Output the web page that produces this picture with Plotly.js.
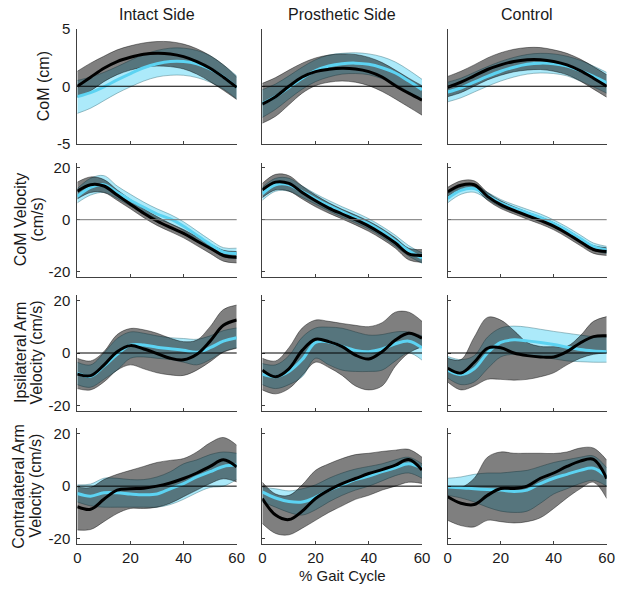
<!DOCTYPE html>
<html lang="en">
<head>
    <meta charset="UTF-8">
    <title>CoM and arm velocity over gait cycle</title>
    <script src="https://cdn.plot.ly/plotly-3.0.1.min.js"></script>
    <style>
        body { margin: 0; background: #fff; }
        #chart { width: 622px; height: 591px; }
    </style>
</head>
<body>
    <div id="chart"></div>
    <script>
        // % gait cycle sample points
        const gaitPct = [0, 5, 10, 15, 20, 25, 30, 35, 40, 45, 50, 55, 60];
        const xTicks = [0, 20, 40, 60];
        const comTicks = [-5, 0, 5];
        const velTicks = [-20, 0, 20];

        const colTitles = ['Intact Side', 'Prosthetic Side', 'Control'];
        // each row label is one or two lines
        const rowTitles = [['CoM (cm)'], ['CoM Velocity', '(cm/s)'], ['Ipsilateral Arm', 'Velocity (cm/s)'], ['Contralateral Arm', 'Velocity (cm/s)']];

        // --- CoM (cm) ---
        const comIntK   = [0.0, 0.78, 1.56, 2.14, 2.51, 2.77, 2.86, 2.8, 2.57, 2.14, 1.56, 0.78, -0.1];
        const comIntKHi = [1.3, 2.0, 2.6, 3.15, 3.5, 3.75, 3.87, 3.85, 3.65, 3.25, 2.65, 1.85, 0.8];
        const comIntKLo = [-0.95, -0.4, 0.4, 1.0, 1.4, 1.65, 1.75, 1.7, 1.5, 1.05, 0.4, -0.35, -1.15];
        const comIntC   = [-0.9, -0.55, -0.05, 0.55, 1.1, 1.6, 1.95, 2.15, 2.15, 1.95, 1.5, 0.8, -0.1];
        const comIntCHi = [0.5, 0.8, 1.2, 1.7, 2.25, 2.75, 3.1, 3.3, 3.3, 3.1, 2.65, 1.85, 0.9];
        const comIntCLo = [-2.35, -1.9, -1.25, -0.6, -0.05, 0.45, 0.8, 0.95, 0.95, 0.75, 0.35, -0.25, -1.1];

        const comProK   = [-1.55, -0.9, 0.0, 0.8, 1.27, 1.47, 1.56, 1.5, 1.27, 0.8, 0.05, -0.6, -1.2];
        const comProKHi = [0.25, 0.75, 1.4, 2.0, 2.45, 2.7, 2.8, 2.75, 2.5, 2.05, 1.4, 0.7, 0.05];
        const comProKLo = [-3.2, -2.6, -1.6, -0.6, 0.05, 0.35, 0.45, 0.35, 0.05, -0.45, -1.1, -1.8, -2.5];
        const comProC   = [-1.5, -0.9, -0.1, 0.7, 1.35, 1.75, 1.95, 2.0, 1.9, 1.6, 1.15, 0.45, -0.3];
        const comProCHi = [-0.3, 0.2, 0.9, 1.65, 2.3, 2.7, 2.85, 2.9, 2.8, 2.55, 2.1, 1.4, 0.6];
        const comProCLo = [-2.7, -2.0, -1.1, -0.25, 0.4, 0.8, 1.05, 1.1, 1.0, 0.65, 0.2, -0.5, -1.2];

        const comCtlK   = [-0.1, 0.35, 0.9, 1.45, 1.85, 2.15, 2.3, 2.3, 2.15, 1.85, 1.35, 0.7, 0.0];
        const comCtlKHi = [0.85, 1.3, 1.85, 2.45, 2.9, 3.2, 3.35, 3.35, 3.15, 2.85, 2.35, 1.7, 1.0];
        const comCtlKLo = [-0.9, -0.55, 0.0, 0.55, 0.95, 1.25, 1.4, 1.45, 1.3, 1.0, 0.45, -0.25, -0.95];
        const comCtlC   = [-0.5, -0.15, 0.35, 0.85, 1.3, 1.65, 1.9, 2.0, 1.95, 1.75, 1.35, 0.85, 0.3];
        const comCtlCHi = [0.35, 0.7, 1.2, 1.7, 2.15, 2.5, 2.75, 2.85, 2.8, 2.6, 2.25, 1.75, 1.2];
        const comCtlCLo = [-1.35, -1.0, -0.5, 0.0, 0.45, 0.8, 1.05, 1.15, 1.1, 0.9, 0.45, -0.05, -0.6];

        // --- CoM velocity (cm/s) ---
        const velIntK   = [11.0, 13.5, 13.0, 9.5, 6.0, 2.5, -0.5, -3.0, -5.3, -8.2, -11.0, -13.8, -14.5];
        const velIntKHi = [14.5, 16.5, 15.5, 11.5, 7.8, 4.3, 1.2, -1.5, -3.8, -6.6, -9.3, -11.8, -12.3];
        const velIntKLo = [8.0, 10.5, 10.5, 7.5, 4.2, 0.8, -2.2, -4.6, -7.0, -10.0, -13.0, -16.0, -16.7];
        const velIntC   = [9.0, 12.5, 13.5, 10.5, 7.5, 4.8, 2.2, 0.3, -2.5, -6.0, -9.5, -12.5, -13.0];
        const velIntCHi = [12.0, 16.0, 17.0, 13.0, 9.8, 6.8, 4.2, 2.0, -0.8, -4.3, -7.8, -10.8, -11.0];
        const velIntCLo = [6.5, 9.5, 10.5, 8.2, 5.3, 2.8, 0.3, -1.5, -4.2, -7.8, -11.2, -14.3, -15.0];

        const velProK   = [11.5, 14.5, 14.0, 10.5, 7.3, 4.5, 2.2, 0.0, -2.5, -5.5, -9.0, -13.2, -13.8];
        const velProKHi = [14.0, 17.5, 17.0, 13.0, 9.5, 6.5, 4.0, 1.8, -0.6, -3.5, -7.0, -11.0, -11.5];
        const velProKLo = [8.5, 11.5, 11.0, 8.0, 5.0, 2.5, 0.3, -2.0, -4.5, -7.5, -11.0, -15.5, -16.5];
        const velProC   = [10.0, 13.5, 13.5, 10.8, 8.0, 5.4, 3.0, 0.8, -1.6, -4.6, -8.2, -12.0, -14.8];
        const velProCHi = [12.5, 16.0, 16.0, 13.0, 10.0, 7.4, 5.0, 2.8, 0.4, -2.6, -6.0, -10.0, -12.8];
        const velProCLo = [7.5, 11.0, 11.0, 8.6, 6.0, 3.4, 1.0, -1.2, -3.6, -6.6, -10.2, -14.0, -16.8];

        const velCtlK   = [10.8, 13.3, 13.5, 9.0, 5.8, 3.6, 1.6, -0.3, -2.5, -5.3, -8.5, -11.5, -12.3];
        const velCtlKHi = [12.5, 15.0, 15.0, 10.5, 7.3, 5.0, 3.0, 1.1, -1.1, -3.8, -7.0, -10.0, -10.8];
        const velCtlKLo = [9.0, 11.6, 12.0, 7.5, 4.3, 2.2, 0.2, -1.7, -3.9, -6.8, -10.0, -13.0, -13.8];
        const velCtlC   = [8.2, 11.3, 12.0, 9.2, 6.4, 4.4, 2.6, 0.8, -1.5, -4.2, -7.3, -10.4, -11.7];
        const velCtlCHi = [10.0, 12.8, 13.4, 10.6, 7.8, 5.8, 4.0, 2.2, -0.1, -2.8, -5.9, -9.0, -10.3];
        const velCtlCLo = [6.5, 9.8, 10.6, 7.8, 5.0, 3.0, 1.2, -0.6, -2.9, -5.6, -8.7, -11.8, -13.1];

        // --- Ipsilateral arm velocity (cm/s) ---
        const ipsIntK   = [-8.0, -8.6, -4.6, 0.5, 2.8, 1.5, -0.2, -2.0, -2.6, -0.5, 4.5, 10.5, 12.5];
        const ipsIntKHi = [-2.0, -3.0, 0.5, 7.0, 9.3, 8.8, 7.5, 5.6, 4.3, 4.9, 10.0, 16.5, 18.2];
        const ipsIntKLo = [-13.5, -14.0, -11.0, -6.5, -4.5, -6.0, -7.5, -8.3, -8.5, -6.5, -3.3, 0.3, 1.8];
        const ipsIntC   = [-7.7, -8.8, -5.0, -0.5, 3.0, 3.0, 2.2, 1.6, 1.0, 0.3, 2.0, 4.5, 5.8];
        const ipsIntCHi = [-3.5, -4.5, 0.0, 5.5, 8.0, 7.5, 6.5, 5.8, 5.5, 5.2, 6.5, 8.5, 9.5];
        const ipsIntCLo = [-12.0, -13.0, -10.0, -6.5, -2.0, -1.5, -2.0, -2.5, -3.5, -4.5, -2.5, 0.5, 2.0];

        const ipsProK   = [-6.5, -9.0, -6.0, 1.0, 5.2, 4.3, 2.4, -0.8, -2.3, 0.5, 4.9, 7.5, 5.6];
        const ipsProKHi = [-2.0, -3.0, 2.0, 9.5, 12.5, 12.0, 11.2, 10.5, 10.0, 11.5, 15.5, 15.5, 12.0];
        const ipsProKLo = [-14.0, -15.5, -13.5, -8.5, -3.5, -5.5, -8.5, -12.5, -14.0, -12.5, -5.0, 0.0, 2.4];
        const ipsProC   = [-8.0, -9.0, -7.0, -2.5, 4.0, 4.2, 2.5, 1.0, 0.5, 1.5, 3.5, 4.5, 2.0];
        const ipsProCHi = [-4.0, -4.5, -1.0, 6.0, 9.5, 9.8, 9.4, 8.0, 6.8, 7.0, 8.0, 8.0, 6.5];
        const ipsProCLo = [-12.0, -13.5, -12.0, -9.0, -2.0, -4.5, -6.5, -7.0, -7.0, -6.5, -3.0, 0.0, -2.7];

        const ipsCtlK   = [-5.8, -7.6, -3.5, 1.8, 2.0, 0.0, -1.0, -1.5, -1.5, 0.5, 3.8, 6.2, 6.5];
        const ipsCtlKHi = [-2.0, -2.5, 6.0, 13.5, 12.5, 8.5, 4.0, 2.5, 2.4, 2.5, 6.5, 12.0, 13.8];
        const ipsCtlKLo = [-11.0, -14.0, -12.5, -10.0, -10.0, -10.3, -10.0, -9.0, -7.5, -4.5, -2.0, -0.5, 0.0];
        const ipsCtlC   = [-6.5, -8.2, -6.0, 0.0, 4.0, 5.0, 4.6, 4.0, 3.2, 2.2, 1.3, 0.8, 0.5];
        const ipsCtlCHi = [-1.3, -2.5, -1.0, 6.0, 9.5, 10.2, 9.8, 9.0, 8.2, 7.5, 6.8, 6.2, 6.0];
        const ipsCtlCLo = [-9.5, -12.0, -11.0, -6.0, -1.5, -0.5, -1.0, -1.5, -2.2, -3.0, -3.3, -3.5, -3.5];

        // --- Contralateral arm velocity (cm/s) ---
        const conIntK   = [-7.8, -8.8, -5.0, -1.5, -1.0, -0.8, 0.0, 1.2, 2.9, 5.0, 7.5, 10.0, 7.3];
        const conIntKHi = [-0.3, -0.5, 2.5, 4.5, 6.0, 7.5, 9.0, 9.8, 10.5, 13.0, 16.5, 18.5, 15.6];
        const conIntKLo = [-16.7, -16.5, -13.5, -10.4, -8.5, -8.5, -8.0, -6.5, -4.0, -1.5, 1.0, 2.8, 1.6];
        const conIntC   = [-2.8, -3.8, -2.5, -2.5, -3.0, -3.3, -3.0, -1.0, 1.0, 3.5, 5.5, 7.5, 8.0];
        const conIntCHi = [0.5, 0.8, 3.0, 3.0, 2.5, 2.5, 3.5, 5.5, 8.5, 10.0, 12.0, 13.0, 12.5];
        const conIntCLo = [-6.0, -7.5, -8.0, -8.0, -8.0, -8.0, -8.0, -7.0, -5.0, -2.5, -0.5, 0.0, 2.5];

        const conProK   = [-4.7, -11.0, -12.7, -9.5, -4.7, -1.5, 1.0, 2.9, 4.8, 6.3, 8.0, 10.1, 6.1];
        const conProKHi = [1.5, -3.0, -3.5, 0.5, 6.0, 8.5, 10.5, 12.0, 12.5, 13.2, 13.7, 14.0, 11.0];
        const conProKLo = [-14.2, -18.0, -18.5, -16.0, -13.0, -10.0, -7.5, -5.0, -3.5, -1.5, 0.0, 1.5, 1.0];
        const conProC   = [-2.2, -4.5, -5.8, -6.0, -4.2, -1.5, 0.5, 2.5, 3.8, 5.5, 7.0, 8.5, 6.7];
        const conProCHi = [-0.5, -1.0, -1.8, -1.0, 0.5, 3.0, 5.0, 6.5, 7.5, 8.5, 10.0, 11.0, 8.5];
        const conProCLo = [-6.0, -8.0, -10.0, -11.0, -9.0, -6.0, -3.5, -1.5, 0.0, 2.0, 4.0, 5.0, 3.0];

        const conCtlK   = [-4.0, -6.5, -7.0, -3.5, -0.9, -0.9, 0.0, 3.0, 5.0, 7.5, 9.5, 10.2, 2.9];
        const conCtlKHi = [-0.3, -0.5, 3.0, 11.0, 13.0, 12.5, 12.5, 12.5, 12.4, 13.0, 14.5, 14.5, 9.9];
        const conCtlKLo = [-13.0, -15.0, -15.5, -13.0, -13.5, -14.0, -13.5, -12.0, -8.5, -4.5, -1.0, 1.5, -4.7];
        const conCtlC   = [-0.3, -0.6, -1.0, -1.3, -1.5, -2.0, -1.5, 1.0, 3.0, 4.5, 6.0, 6.8, 3.5];
        const conCtlCHi = [3.0, 3.5, 4.5, 5.0, 5.0, 5.5, 6.0, 7.5, 9.0, 10.0, 11.0, 11.5, 7.0];
        const conCtlCLo = [-3.5, -4.5, -6.0, -8.0, -9.5, -10.0, -9.5, -6.5, -3.0, -1.0, 1.0, 2.2, 0.0];

        // panels in reading order (row by row)
        const panels = [
            [comIntK, comIntKHi, comIntKLo, comIntC, comIntCHi, comIntCLo],
            [comProK, comProKHi, comProKLo, comProC, comProCHi, comProCLo],
            [comCtlK, comCtlKHi, comCtlKLo, comCtlC, comCtlCHi, comCtlCLo],
            [velIntK, velIntKHi, velIntKLo, velIntC, velIntCHi, velIntCLo],
            [velProK, velProKHi, velProKLo, velProC, velProCHi, velProCLo],
            [velCtlK, velCtlKHi, velCtlKLo, velCtlC, velCtlCHi, velCtlCLo],
            [ipsIntK, ipsIntKHi, ipsIntKLo, ipsIntC, ipsIntCHi, ipsIntCLo],
            [ipsProK, ipsProKHi, ipsProKLo, ipsProC, ipsProCHi, ipsProCLo],
            [ipsCtlK, ipsCtlKHi, ipsCtlKLo, ipsCtlC, ipsCtlCHi, ipsCtlCLo],
            [conIntK, conIntKHi, conIntKLo, conIntC, conIntCHi, conIntCLo],
            [conProK, conProKHi, conProKLo, conProC, conProCHi, conProCLo],
            [conCtlK, conCtlKHi, conCtlKLo, conCtlC, conCtlCHi, conCtlCLo]
        ];

        // page geometry in pixels
        const W = 622, H = 591;
        const colPx = [[77.3, 236.7], [262.3, 422], [447.7, 606.7]];
        const rowPx = [[28.5, 144], [162.7, 276.7], [295, 411], [428.3, 544]];
        const rowTitleX = [[43], [20.5, 38], [20, 35.5], [18.5, 35.5]];

        const FONT = 'Liberation Sans, Arial, sans-serif';
        const textColor = '#1a1a1a';
        const axisColor = '#404040';
        const cyanFill = 'rgb(172,234,250)';
        const grayFill = 'rgba(0,0,0,0.5)';
        const cyanLine = '#5cd3f2';

        const traces = [];
        const shapes = [];
        const layout = {
            width: W,
            height: H,
            margin: { l: 0, r: 0, t: 0, b: 0 },
            paper_bgcolor: '#fff',
            plot_bgcolor: 'rgba(0,0,0,0)',
            showlegend: false,
            font: { family: FONT, size: 15, color: textColor },
            annotations: []
        };

        function line(ax, y, color, width, extra) {
            return Object.assign({
                x: gaitPct, y: y, xaxis: ax.x, yaxis: ax.y,
                mode: 'lines', hoverinfo: 'skip',
                line: { color: color, width: width, shape: 'spline', smoothing: 1 }
            }, extra || {});
        }

        panels.forEach((p, i) => {
            const r = Math.floor(i / 3), c = i % 3;
            const n = i === 0 ? '' : String(i + 1);
            const ax = { x: 'x' + n, y: 'y' + n };
            const [k, kHi, kLo, cy, cHi, cLo] = p;

            // cyan band, grey band, then mean lines
            traces.push(line(ax, cLo, 'rgba(70,120,130,0.8)', 0.6));
            traces.push(line(ax, cHi, 'rgba(70,120,130,0.8)', 0.6, { fill: 'tonexty', fillcolor: cyanFill }));
            traces.push(line(ax, kLo, 'rgba(0,0,0,0.7)', 0.6));
            traces.push(line(ax, kHi, 'rgba(0,0,0,0.7)', 0.6, { fill: 'tonexty', fillcolor: grayFill }));
            traces.push(line(ax, cy, cyanLine, 3));
            traces.push(line(ax, k, '#000', 3));

            const yTicks = r === 0 ? comTicks : velTicks;
            layout['xaxis' + n] = {
                domain: [colPx[c][0] / W, colPx[c][1] / W],
                anchor: ax.y,
                range: [0, 60],
                tickvals: xTicks,
                showticklabels: r === 3,
                ticks: 'inside', ticklen: 3, tickcolor: axisColor,
                showline: true, linecolor: axisColor, linewidth: 1,
                showgrid: false, zeroline: false,
                tickfont: { family: FONT, size: 15, color: textColor }
            };
            layout['yaxis' + n] = {
                domain: [1 - rowPx[r][1] / H, 1 - rowPx[r][0] / H],
                anchor: ax.x,
                range: r === 0 ? [-5, 5] : [-22, 22],
                tickvals: yTicks,
                // plain hyphen minus, as in the original figure
                ticktext: yTicks.map(String),
                showticklabels: c === 0,
                ticks: 'inside', ticklen: 3, tickcolor: axisColor,
                showline: true, linecolor: axisColor, linewidth: 1,
                showgrid: false, zeroline: false,
                ticklabelstandoff: 3,
                tickfont: { family: FONT, size: 15, color: textColor }
            };

            // zero reference line on top of the bands
            shapes.push({
                type: 'line', layer: 'above',
                xref: ax.x + ' domain', yref: ax.y,
                x0: 0, x1: 1, y0: 0, y1: 0,
                line: { color: r === 1 ? '#777' : '#000', width: 1 }
            });
        });

        layout.shapes = shapes;

        // column titles
        colTitles.forEach((t, c) => {
            layout.annotations.push({
                text: t, xref: 'paper', yref: 'paper',
                x: (colPx[c][0] + colPx[c][1]) / 2 / W, y: 1 - 15 / H,
                xanchor: 'center', yanchor: 'middle', showarrow: false,
                font: { family: FONT, size: 16, color: textColor }
            });
        });

        // row titles, one annotation per text line
        rowTitles.forEach((lines, r) => {
            lines.forEach((t, j) => {
                layout.annotations.push({
                    text: t, xref: 'paper', yref: 'paper',
                    x: rowTitleX[r][j] / W, y: 1 - (rowPx[r][0] + rowPx[r][1]) / 2 / H,
                    xanchor: 'center', yanchor: 'middle', showarrow: false,
                    textangle: -90,
                    font: { family: FONT, size: 16, color: textColor }
                });
            });
        });

        // x axis label under the middle column
        layout.annotations.push({
            text: '% Gait Cycle', xref: 'paper', yref: 'paper',
            x: (colPx[1][0] + colPx[1][1]) / 2 / W, y: 1 - 575 / H,
            xanchor: 'center', yanchor: 'middle', showarrow: false,
            font: { family: FONT, size: 15, color: textColor }
        });

        Plotly.newPlot('chart', traces, layout, { displayModeBar: false, staticPlot: true });
    </script>
</body>
</html>
